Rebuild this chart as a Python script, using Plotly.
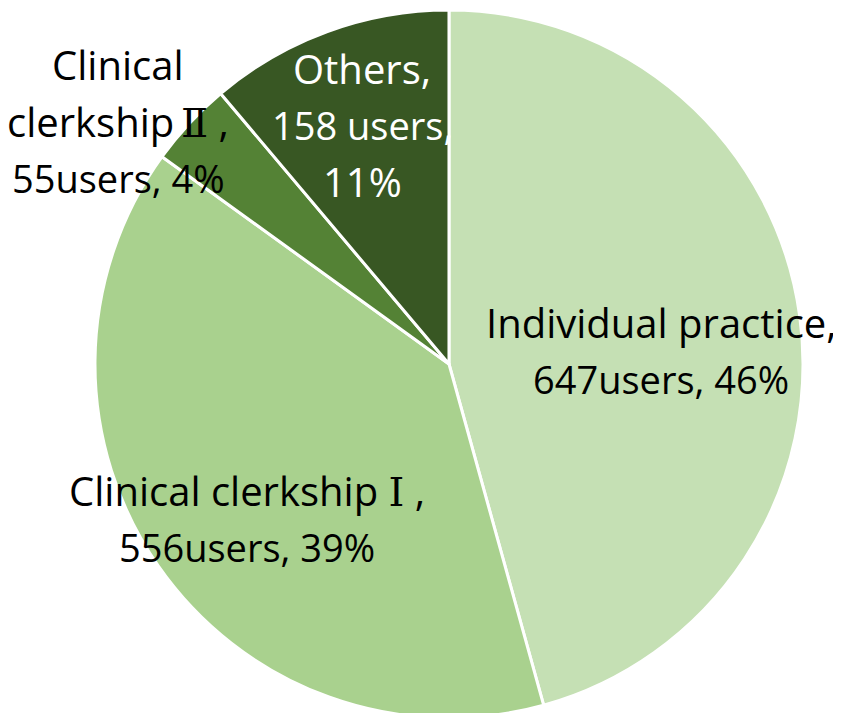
import plotly.graph_objects as go

categories = ["Individual practice", "Clinical clerkship Ⅰ", "Clinical clerkship Ⅱ", "Others"]
users = [647, 556, 55, 158]
percent_labels = ["46%", "39%", "4%", "11%"]
colors = ["#C5E0B4", "#A9D18E", "#548235", "#385723"]

SERIF = "<span style='font-family:DejaVu Serif, Noto Sans CJK JP'>{}</span>"

# label lines for each slice
label_lines = [
    ["Individual practice,", "647users, 46%"],
    ["Clinical clerkship " + SERIF.format("Ⅰ") + " ,", "556users, 39%"],
    ["Clinical", "clerkship\u2009" + SERIF.format("Ⅱ") + " ,", "55users, 4%"],
    ["Others,", "158 users,", "11%"],
]
label_colors = ["black", "black", "black", "white"]
# anchor (pixel, in page) of first line centre for each label block
label_anchor = [(661, 322), (247, 490), (118, 64), (362, 68)]
line_step = 57

W, H = 841, 713
PAGE_OFF = 8  # body margin of the html page

fig = go.Figure(go.Pie(
    labels=categories,
    values=users,
    sort=False,
    direction="clockwise",
    rotation=0,
    marker=dict(colors=colors, line=dict(color="white", width=3)),
    textinfo="none",
    hoverinfo="label+value+percent",
    domain=dict(x=[0.1034, 0.9453], y=[0.0042, 0.9972]),
    showlegend=False,
))

font_family = "Open Sans, DejaVu Sans, Noto Sans CJK JP, sans-serif"
for lines, col, (ax, ay) in zip(label_lines, label_colors, label_anchor):
    for i, line in enumerate(lines):
        px = ax - PAGE_OFF
        py = ay + i * line_step - PAGE_OFF
        size = 38 if "users" in line else 40
        fig.add_annotation(
            x=px / W, y=1 - py / H, xref="paper", yref="paper",
            text=line, showarrow=False, xanchor="center", yanchor="middle",
            font=dict(family=font_family, size=size, color=col),
        )

fig.update_layout(
    width=W, height=H,
    margin=dict(l=0, r=0, t=0, b=0),
    paper_bgcolor="white",
    plot_bgcolor="white",
)

fig.write_html("out.html")
